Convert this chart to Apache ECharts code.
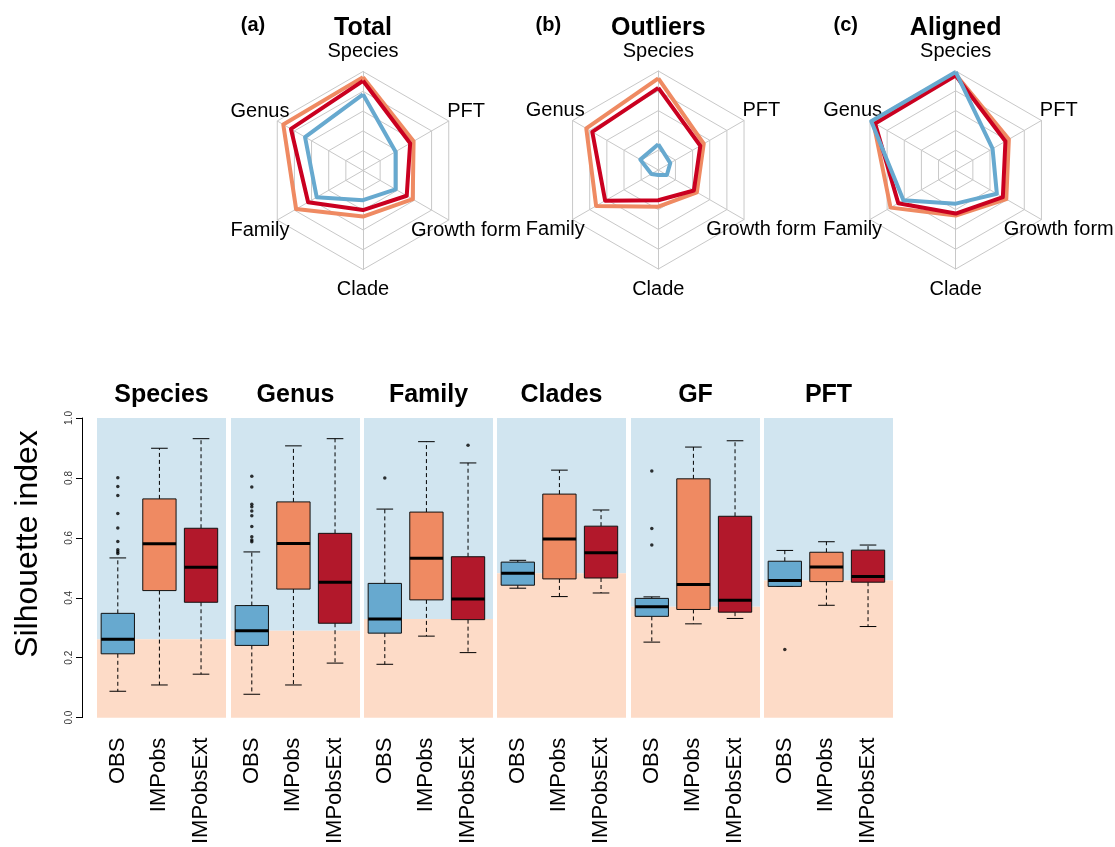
<!DOCTYPE html>
<html>
<head>
<meta charset="utf-8">
<script src="https://cdn.jsdelivr.net/npm/echarts@6/dist/echarts.min.js"></script>
<style>
  html, body { margin: 0; padding: 0; background: #fff; }
  #chart { width: 1115px; height: 847px; }
</style>
</head>
<body>
<div id="chart"></div>
<script>
// ---------- radar panels ----------
const radarAxes = ['Species', 'Genus', 'Family', 'Clade', 'Growth form', 'PFT'];
const radarTitles = ['Total', 'Outliers', 'Aligned'];
const radarTags = ['(a)', '(b)', '(c)'];

// values per radar axis (order as radarAxes)
const totalIMPobs    = [0.943, 0.93, 0.78, 0.465, 0.58, 0.59];
const totalIMPobsExt = [0.906, 0.84, 0.64, 0.40, 0.51, 0.55];
const totalOBS       = [0.77, 0.676, 0.54, 0.30, 0.38, 0.38];

const outlIMPobs     = [0.925, 0.84, 0.725, 0.37, 0.45, 0.53];
const outlIMPobsExt  = [0.83, 0.77, 0.62, 0.305, 0.415, 0.49];
const outlOBS        = [0.26, 0.21, 0.08, 0.05, 0.10, 0.14];

const alignIMPobs    = [0.965, 0.96, 0.76, 0.46, 0.59, 0.62];
const alignIMPobsExt = [0.955, 0.94, 0.67, 0.44, 0.55, 0.58];
const alignOBS       = [0.99, 0.985, 0.61, 0.34, 0.48, 0.43];

// ---------- boxplot panels ----------
const groups = ['Species', 'Genus', 'Family', 'Clades', 'GF', 'PFT'];
const methods = ['OBS', 'IMPobs', 'IMPobsExt'];
const yTicks = [0, 0.2, 0.4, 0.6, 0.8, 1.0];

// [lower whisker, Q1, median, Q3, upper whisker]
const boxOBS = [
  [0.088, 0.213, 0.262, 0.348, 0.533],
  [0.078, 0.241, 0.290, 0.374, 0.553],
  [0.178, 0.282, 0.329, 0.448, 0.696],
  [0.432, 0.442, 0.482, 0.519, 0.525],
  [0.252, 0.338, 0.370, 0.398, 0.403],
  [0.438, 0.438, 0.458, 0.522, 0.558]
];
const boxIMPobs = [
  [0.109, 0.424, 0.580, 0.730, 0.899],
  [0.109, 0.429, 0.581, 0.720, 0.907],
  [0.272, 0.393, 0.532, 0.686, 0.921],
  [0.404, 0.463, 0.596, 0.746, 0.826],
  [0.313, 0.361, 0.444, 0.797, 0.903],
  [0.375, 0.454, 0.503, 0.552, 0.587]
];
const boxIMPobsExt = [
  [0.145, 0.385, 0.502, 0.632, 0.931],
  [0.182, 0.315, 0.452, 0.615, 0.931],
  [0.217, 0.327, 0.396, 0.537, 0.850],
  [0.416, 0.466, 0.550, 0.639, 0.693],
  [0.331, 0.352, 0.392, 0.672, 0.924],
  [0.304, 0.452, 0.471, 0.559, 0.576]
];
const outliersOBS = [
  [0.801, 0.771, 0.741, 0.681, 0.633, 0.588, 0.560, 0.554, 0.548],
  [0.806, 0.770, 0.712, 0.704, 0.690, 0.674, 0.638, 0.604, 0.593, 0.587],
  [0.800],
  [],
  [0.823, 0.631, 0.576],
  [0.227]
];
const outliersIMPobs = [[], [], [], [], [], []];
const outliersIMPobsExt = [[], [], [0.909], [], [], []];

// ---------- styling ----------
const FONT = "'Liberation Sans', Arial, Helvetica, sans-serif";
const C_OBS = '#67a9cf', C_IMP = '#ef8a62', C_EXT = '#b2182b';
const C_RADAR_EXT = '#ca0020';
const BG_HIGH = '#d1e5f0', BG_LOW = '#fddbc7';
const methodColors = [C_OBS, C_IMP, C_EXT];

const radarCenters = [[363, 170.5], [658.3, 170], [955.7, 170]];
const radarR = 99;
const panelLeft = [97, 231, 364, 497, 631, 764];
const panelW = 129, panelTop = 418, panelH = 300;

const option = {
  animation: false,
  backgroundColor: '#fff',
  textStyle: { fontFamily: FONT },
  radar: [], grid: [], xAxis: [], yAxis: [], series: [], graphic: []
};

// radar components
const radarSets = [
  [totalIMPobs, totalIMPobsExt, totalOBS],
  [outlIMPobs, outlIMPobsExt, outlOBS],
  [alignIMPobs, alignIMPobsExt, alignOBS]
];
radarSets.forEach((set, i) => {
  option.radar.push({
    center: radarCenters[i],
    radius: radarR,
    startAngle: 90,
    splitNumber: 5,
    shape: 'polygon',
    nameGap: 20,
    indicator: radarAxes.map(n => ({ name: n, min: 0, max: 1 })),
    axisName: { color: '#000', fontSize: 20, fontFamily: FONT, align: 'center', verticalAlign: 'middle' },
    splitLine: { lineStyle: { color: '#c8c8c8', width: 1 } },
    axisLine: { lineStyle: { color: '#c8c8c8', width: 1 } },
    splitArea: { show: false },
    axisTick: { show: false },
    axisLabel: { show: false }
  });
  option.series.push({
    type: 'radar',
    radarIndex: i,
    symbol: 'none',
    silent: true,
    data: [
      { value: set[0], lineStyle: { color: C_IMP, width: 4 } },
      { value: set[1], lineStyle: { color: C_RADAR_EXT, width: 4 } },
      { value: set[2], lineStyle: { color: C_OBS, width: 4 } }
    ]
  });
  option.graphic.push({
    type: 'text', x: radarCenters[i][0] - 110, y: 25,
    style: { text: radarTags[i], font: 'bold 20px ' + FONT, fill: '#000', align: 'center', verticalAlign: 'middle' }
  });
  option.graphic.push({
    type: 'text', x: radarCenters[i][0], y: 28,
    style: { text: radarTitles[i], font: 'bold 25px ' + FONT, fill: '#000', align: 'center', verticalAlign: 'middle' }
  });
});

// box drawing
function renderBox(params, api) {
  const x = api.value(0);
  const lo = api.value(1), q1 = api.value(2), med = api.value(3), q3 = api.value(4), hi = api.value(5);
  const pLo = api.coord([x, lo]), pQ1 = api.coord([x, q1]), pMed = api.coord([x, med]);
  const pQ3 = api.coord([x, q3]), pHi = api.coord([x, hi]);
  const halfBox = api.size([0.8, 0])[0] / 2;
  const halfCap = api.size([0.4, 0])[0] / 2;
  const cx = pMed[0];
  const color = methodColors[Math.round(x) - 1];
  const dash = { stroke: '#000', lineWidth: 1, lineDash: [4, 3] };
  const solid = { stroke: '#000', lineWidth: 1 };
  return {
    type: 'group',
    children: [
      { type: 'line', shape: { x1: cx, y1: pQ3[1], x2: cx, y2: pHi[1] }, style: dash },
      { type: 'line', shape: { x1: cx, y1: pQ1[1], x2: cx, y2: pLo[1] }, style: dash },
      { type: 'line', shape: { x1: cx - halfCap, y1: pHi[1], x2: cx + halfCap, y2: pHi[1] }, style: solid },
      { type: 'line', shape: { x1: cx - halfCap, y1: pLo[1], x2: cx + halfCap, y2: pLo[1] }, style: solid },
      { type: 'rect', shape: { x: cx - halfBox, y: pQ3[1], width: 2 * halfBox, height: pQ1[1] - pQ3[1] },
        style: { fill: color, stroke: '#111', lineWidth: 1 } },
      { type: 'line', shape: { x1: cx - halfBox, y1: pMed[1], x2: cx + halfBox, y2: pMed[1] },
        style: { stroke: '#000', lineWidth: 3 } }
    ]
  };
}

function renderBackground(params, api) {
  const cs = params.coordSys;
  const t = api.coord([1, api.value(0)])[1];
  return {
    type: 'group',
    children: [
      { type: 'rect', shape: { x: cs.x, y: cs.y, width: cs.width, height: t - cs.y }, style: { fill: BG_HIGH } },
      { type: 'rect', shape: { x: cs.x, y: t, width: cs.width, height: cs.y + cs.height - t }, style: { fill: BG_LOW } }
    ]
  };
}

groups.forEach((g, i) => {
  option.grid.push({ left: panelLeft[i], top: panelTop, width: panelW, height: panelH });
  option.xAxis.push({
    type: 'value', gridIndex: i, min: 0.5, max: 3.6,
    axisLine: { show: false }, axisTick: { show: false }, splitLine: { show: false },
    axisLabel: {
      customValues: [1, 2, 3], rotate: 90, margin: 20, fontSize: 22, color: '#000', fontFamily: FONT,
      formatter: v => methods[Math.round(v) - 1]
    }
  });
  const first = i === 0;
  option.yAxis.push({
    type: 'value', gridIndex: i, min: 0, max: 1, interval: 0.2,
    show: first, offset: 15,
    axisLine: { show: true, lineStyle: { color: '#000', width: 1 } },
    axisTick: { show: true, length: 6, lineStyle: { color: '#000' } },
    splitLine: { show: false },
    axisLabel: {
      rotate: 90, fontSize: 10, color: '#333', margin: 8, fontFamily: FONT,
      customValues: yTicks, formatter: v => v.toFixed(1)
    }
  });
  option.series.push({
    type: 'custom', xAxisIndex: i, yAxisIndex: i, silent: true, z: 0,
    renderItem: renderBackground, data: [[boxOBS[i][2]]], clip: false
  });
  option.series.push({
    type: 'custom', xAxisIndex: i, yAxisIndex: i, silent: true, z: 2,
    renderItem: renderBox,
    encode: { x: 0, y: [1, 2, 3, 4, 5] },
    data: [[1, ...boxOBS[i]], [2, ...boxIMPobs[i]], [3, ...boxIMPobsExt[i]]]
  });
  const pts = [];
  outliersOBS[i].forEach(v => pts.push([1, v]));
  outliersIMPobs[i].forEach(v => pts.push([2, v]));
  outliersIMPobsExt[i].forEach(v => pts.push([3, v]));
  option.series.push({
    type: 'scatter', xAxisIndex: i, yAxisIndex: i, silent: true, z: 3,
    symbol: 'circle', symbolSize: 3.5, itemStyle: { color: '#000' }, data: pts
  });
  option.graphic.push({
    type: 'text', x: panelLeft[i] + panelW / 2, y: 395,
    style: { text: g, font: 'bold 25px ' + FONT, fill: '#000', align: 'center', verticalAlign: 'middle' }
  });
});

option.graphic.push({
  type: 'text', x: 28, y: 544, rotation: Math.PI / 2,
  style: { text: 'Silhouette index', font: '32px ' + FONT, fill: '#000', align: 'center', verticalAlign: 'middle' }
});

const chart = echarts.init(document.getElementById('chart'), null, { renderer: 'canvas' });
chart.setOption(option);
</script>
</body>
</html>
